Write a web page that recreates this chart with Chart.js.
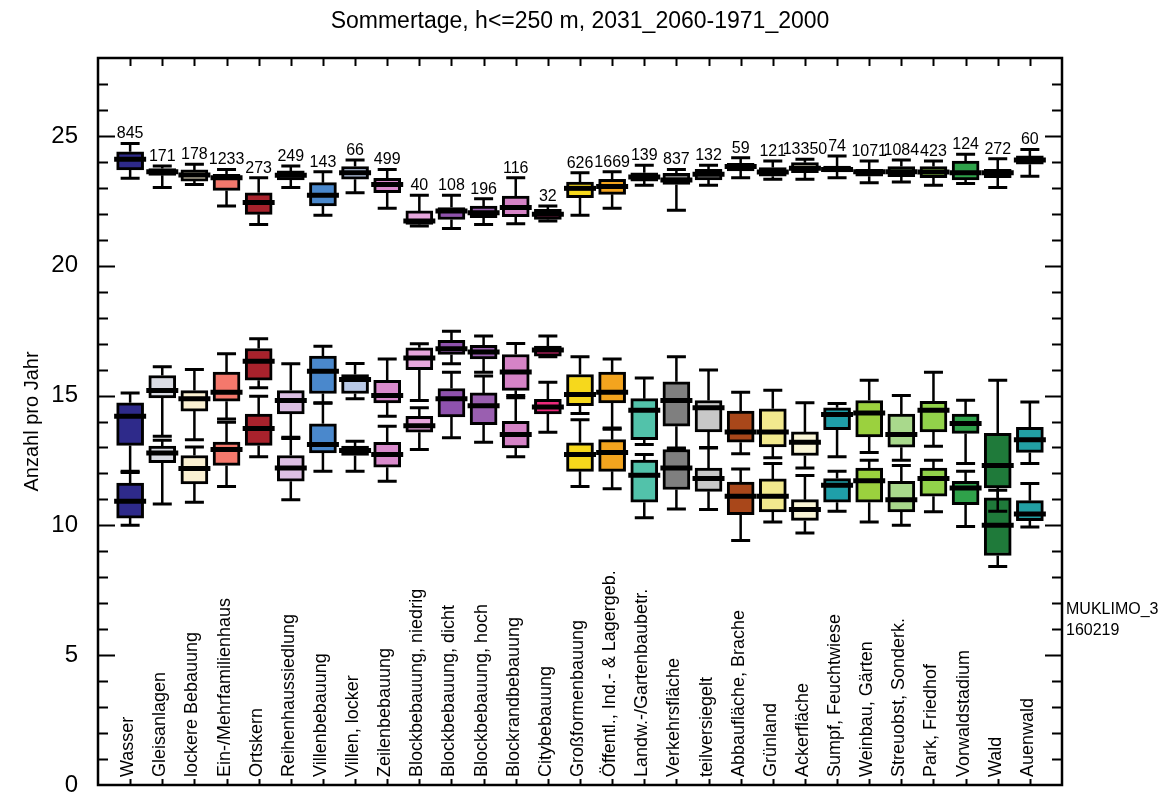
<!DOCTYPE html>
<html>
<head>
<meta charset="utf-8">
<script src="https://cdn.jsdelivr.net/npm/chart.js@4.4.1/dist/chart.umd.min.js"></script>
<style>
html,body{margin:0;padding:0;background:#fff;}
#wrap{width:1163px;height:793px;}
</style>
</head>
<body>
<div id="wrap"><canvas id="c" width="1163" height="793"></canvas></div>
<script>
const chartTitle = "Sommertage, h<=250 m, 2031_2060-1971_2000";
const yAxisTitle = "Anzahl pro Jahr";
const sideNote = ["MUKLIMO_3", "160219"];

const categories = [
  "Wasser", "Gleisanlagen", "lockere Bebauung", "Ein-/Mehrfamilienhaus", "Ortskern",
  "Reihenhaussiedlung", "Villenbebauung", "Villen, locker", "Zeilenbebauung",
  "Blockbebauung, niedrig", "Blockbebauung, dicht", "Blockbebauung, hoch",
  "Blockrandbebauung", "Citybebauung", "Großformenbauung", "Öffentl., Ind.- & Lagergeb.",
  "Landw.-/Gartenbaubetr.", "Verkehrsfläche", "teilversiegelt", "Abbaufläche, Brache",
  "Grünland", "Ackerfläche", "Sumpf, Feuchtwiese", "Weinbau, Gärten", "Streuobst, Sonderk.",
  "Park, Friedhof", "Vorwaldstadium", "Wald", "Auenwald"
];

const counts = [845, 171, 178, 1233, 273, 249, 143, 66, 499, 40, 108, 196, 116, 32, 626,
  1669, 139, 837, 132, 59, 121, 13350, 74, 1071, 1084, 423, 124, 272, 60];

const colors = [
  "#2e2a8a", "#d9dbe3", "#faf0d2", "#f4786c", "#a8222c", "#dcbfe3", "#4a88cc", "#b9c9e6",
  "#d98bcc", "#e6a6dc", "#8f52ad", "#9a5fb0", "#d583c6", "#ec2a7c", "#f6d81c", "#f3a41e",
  "#52c2aa", "#7f7f7f", "#c8c8c8", "#a9471a", "#f2e98e", "#f9f5d6", "#1f9fa9", "#9bd13e",
  "#a9d98c", "#92d24a", "#2fa24a", "#1f7a3a", "#22a0a4"
];

// each entry: [min, q1, median, q3, max]
const topBoxes = [
  [23.37, 23.69, 24.10, 24.39, 24.71], [23.01, 23.48, 23.62, 23.74, 23.84],
  [23.13, 23.26, 23.49, 23.69, 23.91], [22.30, 22.90, 23.39, 23.52, 23.71],
  [21.59, 21.98, 22.43, 22.81, 23.39], [23.01, 23.30, 23.48, 23.65, 23.84],
  [21.94, 22.30, 22.71, 23.20, 23.62], [22.81, 23.33, 23.58, 23.82, 24.07],
  [22.21, 22.81, 23.13, 23.37, 23.71], [21.53, 21.59, 21.72, 22.11, 22.71],
  [21.43, 21.78, 22.11, 22.24, 22.71], [21.59, 21.85, 22.04, 22.30, 22.58],
  [21.62, 21.89, 22.24, 22.68, 23.39], [21.72, 21.78, 21.98, 22.17, 22.30],
  [21.94, 22.62, 22.98, 23.22, 23.58], [22.21, 22.75, 23.05, 23.33, 23.62],
  [23.10, 23.26, 23.42, 23.58, 23.87], [22.14, 23.13, 23.30, 23.56, 23.71],
  [23.10, 23.30, 23.52, 23.71, 23.87], [23.39, 23.65, 23.82, 23.94, 24.16],
  [23.33, 23.45, 23.61, 23.78, 24.03], [23.33, 23.58, 23.75, 23.97, 24.10],
  [23.39, 23.61, 23.71, 23.84, 24.23], [23.20, 23.45, 23.62, 23.71, 24.03],
  [23.22, 23.43, 23.62, 23.82, 24.07], [23.10, 23.39, 23.61, 23.82, 24.03],
  [23.17, 23.30, 23.58, 24.03, 24.29], [23.01, 23.39, 23.58, 23.71, 24.12],
  [23.45, 23.91, 24.07, 24.23, 24.48]
];

const upperBoxes = [
  [12.04, 13.08, 14.20, 14.72, 15.10], [13.43, 14.91, 15.19, 15.77, 16.11],
  [13.30, 14.40, 14.88, 15.19, 16.00], [14.10, 14.78, 15.13, 15.90, 16.61],
  [15.30, 15.59, 16.32, 16.81, 17.19], [13.39, 14.29, 14.81, 15.19, 16.22],
  [14.72, 15.08, 15.94, 16.52, 16.90], [14.88, 15.08, 15.62, 15.81, 16.23],
  [14.20, 14.72, 15.00, 15.59, 16.41], [14.81, 16.00, 16.45, 16.84, 16.99],
  [16.22, 16.58, 16.80, 17.13, 17.48], [15.90, 16.41, 16.68, 16.93, 17.29],
  [15.00, 15.20, 15.91, 16.58, 17.00], [16.49, 16.52, 16.75, 16.90, 17.29],
  [14.31, 14.61, 15.04, 15.81, 16.49], [13.75, 14.72, 15.13, 15.90, 16.41],
  [13.11, 13.30, 14.43, 14.88, 15.68], [12.98, 13.82, 14.81, 15.53, 16.49],
  [12.98, 13.60, 14.53, 14.81, 15.98], [12.76, 13.20, 13.60, 14.40, 15.13],
  [12.60, 13.02, 13.60, 14.49, 15.20], [12.21, 12.69, 13.20, 13.60, 14.72],
  [12.64, 13.69, 14.27, 14.53, 14.69], [12.81, 13.41, 14.33, 14.81, 15.59],
  [12.51, 13.01, 13.50, 14.29, 15.00], [13.05, 13.60, 14.43, 14.78, 15.90],
  [12.38, 13.54, 13.92, 14.29, 14.82], [10.54, 11.44, 12.31, 13.54, 15.59],
  [12.38, 12.81, 13.30, 13.78, 14.75]
];

const lowerBoxes = [
  [10.00, 10.28, 10.93, 11.63, 12.08], [10.82, 12.41, 12.79, 13.05, 13.28],
  [10.89, 11.60, 12.19, 12.69, 13.02], [11.50, 12.31, 12.92, 13.21, 13.97],
  [12.64, 13.08, 13.73, 14.29, 14.97], [10.99, 11.70, 12.21, 12.69, 13.35],
  [12.08, 12.79, 13.11, 13.91, 14.70], [12.08, 12.69, 12.88, 13.05, 13.24],
  [11.70, 12.24, 12.73, 13.20, 13.82], [12.92, 13.59, 13.84, 14.20, 14.53],
  [13.37, 14.18, 14.88, 15.27, 15.90], [13.20, 13.88, 14.61, 15.10, 15.75],
  [12.64, 12.98, 13.50, 14.01, 14.91], [13.59, 14.29, 14.56, 14.85, 15.51],
  [11.50, 12.08, 12.73, 13.18, 14.07], [11.41, 12.08, 12.81, 13.30, 13.70],
  [10.29, 10.89, 11.93, 12.51, 12.73], [10.63, 11.38, 12.21, 12.92, 12.95],
  [10.61, 11.31, 11.80, 12.21, 13.00], [9.42, 10.41, 11.12, 11.67, 12.17],
  [10.13, 10.52, 11.12, 11.79, 12.38], [9.71, 10.19, 10.61, 10.99, 11.92],
  [10.54, 10.89, 11.54, 11.80, 12.08], [10.13, 10.89, 11.72, 12.21, 12.51],
  [10.00, 10.52, 10.99, 11.70, 12.31], [10.52, 11.12, 11.80, 12.21, 12.51],
  [9.96, 10.80, 11.44, 11.70, 12.08], [8.42, 8.84, 10.00, 11.06, 11.35],
  [9.94, 10.18, 10.44, 10.95, 11.61]
];

const yLabelTicks = [0, 5, 10, 15, 20, 25];
const yMin = 0, yMax = 28;

const FONT = "'Liberation Sans', Arial, Helvetica, sans-serif";

function boxDataset(name, boxes) {
  return {
    label: name,
    data: boxes.map((b, i) => ({ x: i, y: [b[1], b[3]] })),
    stats: boxes,
    backgroundColor: colors,
    borderColor: "#000",
    borderWidth: 3,
    borderSkipped: false,
    barThickness: 27,
    grouped: false
  };
}

const boxPlugin = {
  id: "boxWhiskers",
  afterDatasetsDraw(chart) {
    const ctx = chart.ctx;
    const y = chart.scales.y;
    chart.data.datasets.forEach((ds, di) => {
      const meta = chart.getDatasetMeta(di);
      meta.data.forEach((bar, i) => {
        const s = ds.stats[i];
        const x = bar.x;
        const hw = bar.width / 2;
        const pMin = y.getPixelForValue(s[0]);
        const pMed = y.getPixelForValue(s[2]);
        const pQ1 = y.getPixelForValue(s[1]);
        const pQ3 = y.getPixelForValue(s[3]);
        const pMax = y.getPixelForValue(s[4]);
        ctx.save();
        ctx.strokeStyle = "#000";
        ctx.lineWidth = 2.5;
        ctx.beginPath();
        ctx.moveTo(x, pMax); ctx.lineTo(x, pQ3);
        ctx.moveTo(x, pQ1); ctx.lineTo(x, pMin);
        ctx.stroke();
        ctx.lineWidth = 3;
        ctx.beginPath();
        ctx.moveTo(x - 9.5, pMax); ctx.lineTo(x + 9.5, pMax);
        ctx.moveTo(x - 9.5, pMin); ctx.lineTo(x + 9.5, pMin);
        ctx.stroke();
        ctx.lineWidth = 5;
        ctx.beginPath();
        ctx.moveTo(x - hw - 2.5, pMed); ctx.lineTo(x + hw + 2.5, pMed);
        ctx.stroke();
        ctx.restore();
      });
    });
    // counts above the top boxes
    const meta0 = chart.getDatasetMeta(0);
    ctx.save();
    ctx.fillStyle = "#000";
    ctx.font = "16px " + FONT;
    ctx.textAlign = "center";
    ctx.textBaseline = "alphabetic";
    meta0.data.forEach((bar, i) => {
      const pMax = y.getPixelForValue(topBoxes[i][4]);
      ctx.fillText(String(counts[i]), bar.x, pMax - 5);
    });
    ctx.restore();
  },
  afterDraw(chart) {
    const ctx = chart.ctx;
    const a = chart.chartArea;
    const y = chart.scales.y;
    const x = chart.scales.x;
    ctx.save();
    // title
    ctx.fillStyle = "#000";
    ctx.font = "23px " + FONT;
    ctx.textAlign = "center";
    ctx.textBaseline = "alphabetic";
    ctx.fillText(chartTitle, (a.left + a.right) / 2, 28);
    ctx.strokeStyle = "#000";
    // frame
    ctx.lineWidth = 2.5;
    ctx.strokeRect(a.left, a.top, a.right - a.left, a.bottom - a.top);
    // y ticks, inward, both sides
    ctx.lineWidth = 2;
    ctx.beginPath();
    for (let v = yMin + 1; v < yMax; v++) {
      const py = Math.round(y.getPixelForValue(v)) + 0.5;
      const len = (v % 5 === 0) ? 17 : 10;
      ctx.moveTo(a.left, py); ctx.lineTo(a.left + len, py);
      ctx.moveTo(a.right, py); ctx.lineTo(a.right - len, py);
    }
    // x ticks at categories, top and bottom, inward
    categories.forEach((c, i) => {
      const px = Math.round(x.getPixelForValue(i)) + 0.5;
      ctx.moveTo(px, a.top); ctx.lineTo(px, a.top + 8);
      ctx.moveTo(px, a.bottom); ctx.lineTo(px, a.bottom - 6);
    });
    ctx.stroke();
    // category labels, rotated, inside plot at the bottom
    ctx.font = "18px " + FONT;
    ctx.textAlign = "left";
    categories.forEach((c, i) => {
      const px = x.getPixelForValue(i);
      ctx.save();
      ctx.translate(px + 3, a.bottom - 8);
      ctx.rotate(-Math.PI / 2);
      ctx.fillText(c, 0, 0);
      ctx.restore();
    });
    // side note
    ctx.font = "16px " + FONT;
    ctx.fillText(sideNote[0], a.right + 4, 614);
    ctx.fillText(sideNote[1], a.right + 4, 635);
    ctx.restore();
  }
};

new Chart(document.getElementById("c").getContext("2d"), {
  type: "bar",
  data: {
    datasets: [
      boxDataset("Anzahl", topBoxes),
      boxDataset("obere Box", upperBoxes),
      boxDataset("untere Box", lowerBoxes)
    ]
  },
  options: {
    responsive: false,
    animation: false,
    devicePixelRatio: 1,
    layout: { padding: { left: 0, right: 101, top: 58, bottom: 8 } },
    plugins: {
      legend: { display: false },
      tooltip: { enabled: false },
      title: { display: false }
    },
    scales: {
      x: {
        type: "linear",
        min: -1,
        max: 29,
        offset: false,
        display: false
      },
      y: {
        min: yMin,
        max: yMax,
        afterBuildTicks: (s) => { s.ticks = yLabelTicks.map(v => ({ value: v })); },
        afterFit: (s) => { s.width = 98; s.paddingTop = 0; s.paddingBottom = 0; },
        ticks: {
          color: "#000",
          padding: 20,
          font: { family: FONT, size: 24, lineHeight: 0.8 }
        },
        grid: { display: false, drawTicks: false },
        border: { display: false },
        title: {
          display: true,
          text: yAxisTitle,
          color: "#000",
          font: { family: FONT, size: 20 },
          padding: { top: 20, bottom: 0 }
        }
      }
    }
  },
  plugins: [boxPlugin]
});
</script>
</body>
</html>
